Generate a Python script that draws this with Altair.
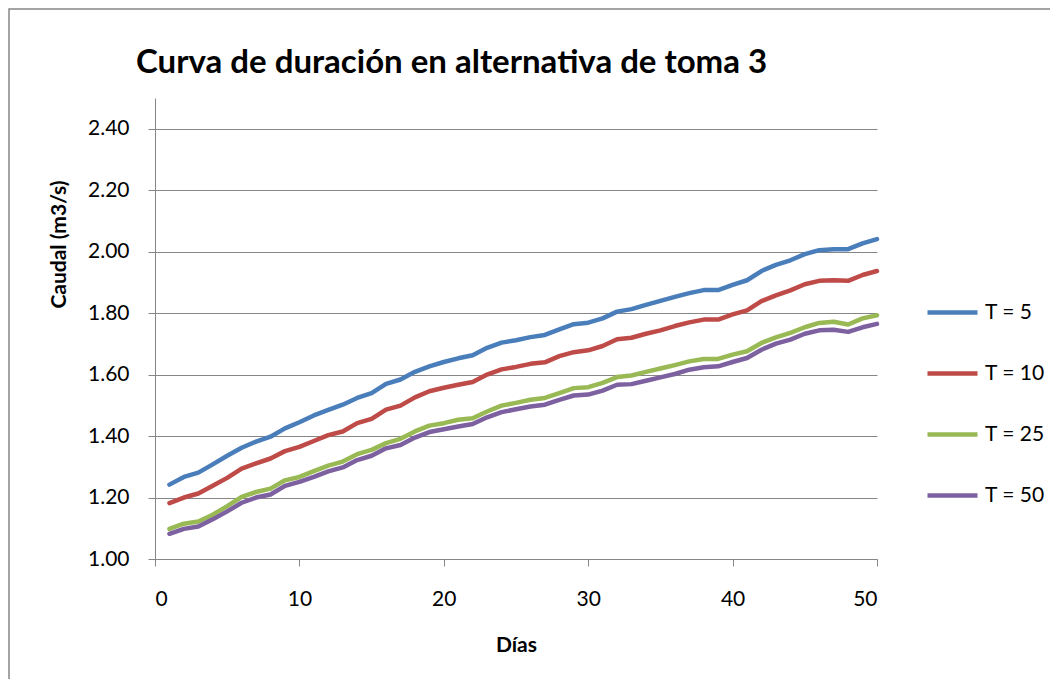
import altair as alt
import pandas as pd

dias = list(range(1, 51))
series = ["T = 5", "T = 10", "T = 25", "T = 50"]
colors = ["#4A7EBB", "#BE4B48", "#98B954", "#7D60A0"]

t5 = [1.242, 1.267, 1.281, 1.308, 1.336, 1.362, 1.382, 1.398, 1.425, 1.445,
      1.467, 1.485, 1.502, 1.524, 1.540, 1.570, 1.584, 1.609, 1.627, 1.641,
      1.653, 1.663, 1.687, 1.704, 1.712, 1.722, 1.729, 1.747, 1.764, 1.769,
      1.783, 1.805, 1.813, 1.827, 1.840, 1.853, 1.865, 1.875, 1.875, 1.892,
      1.907, 1.937, 1.957, 1.972, 1.992, 2.005, 2.008, 2.008, 2.027, 2.041]
t10 = [1.182, 1.200, 1.213, 1.238, 1.264, 1.294, 1.311, 1.327, 1.351, 1.365,
       1.384, 1.403, 1.415, 1.442, 1.456, 1.486, 1.499, 1.526, 1.546, 1.557,
       1.567, 1.576, 1.600, 1.617, 1.625, 1.635, 1.640, 1.660, 1.673, 1.679,
       1.693, 1.715, 1.720, 1.733, 1.744, 1.758, 1.770, 1.779, 1.779, 1.796,
       1.809, 1.839, 1.858, 1.874, 1.894, 1.905, 1.907, 1.905, 1.924, 1.937]
t25 = [1.098, 1.115, 1.122, 1.144, 1.172, 1.202, 1.218, 1.229, 1.256, 1.267,
       1.286, 1.304, 1.317, 1.341, 1.355, 1.377, 1.391, 1.415, 1.434, 1.442,
       1.453, 1.458, 1.480, 1.499, 1.508, 1.518, 1.524, 1.540, 1.556, 1.559,
       1.573, 1.592, 1.597, 1.609, 1.620, 1.631, 1.643, 1.651, 1.651, 1.665,
       1.676, 1.703, 1.721, 1.736, 1.754, 1.768, 1.772, 1.763, 1.783, 1.793]
t50 = [1.082, 1.098, 1.106, 1.129, 1.155, 1.183, 1.200, 1.210, 1.238, 1.251,
       1.267, 1.285, 1.298, 1.322, 1.336, 1.360, 1.371, 1.395, 1.413, 1.422,
       1.431, 1.439, 1.461, 1.478, 1.487, 1.496, 1.502, 1.518, 1.532, 1.535,
       1.548, 1.567, 1.569, 1.580, 1.591, 1.602, 1.616, 1.624, 1.627, 1.641,
       1.654, 1.681, 1.701, 1.714, 1.733, 1.744, 1.746, 1.739, 1.754, 1.765]

x_ticks = [0, 10, 20, 30, 40, 50]
y_ticks = [1.0, 1.2, 1.4, 1.6, 1.8, 2.0, 2.2, 2.4]

rows = []
for name, vals in zip(series, [t5, t10, t25, t50]):
    for d, v in zip(dias, vals):
        rows.append({"dia": d, "caudal": v, "serie": name})
df = pd.DataFrame(rows)

W, H = 722, 461
FONT = "Lato"
GRAY = "#868686"

border = alt.Chart(pd.DataFrame({"k": [0]})).mark_rect(
    fill="transparent", stroke=GRAY, strokeWidth=1.5
).encode(
    x=alt.value(-146), x2=alt.value(W + 300),
    y=alt.value(-89), y2=alt.value(H + 300),
)

lines = alt.Chart(df).mark_line(strokeWidth=4.5, strokeCap="round", strokeJoin="round").encode(
    x=alt.X("dia:Q", scale=alt.Scale(domain=[0, 50], nice=False),
            axis=alt.Axis(values=x_ticks, title="Días", grid=False, tickSize=7,
                          labelPadding=22, titlePadding=25)),
    y=alt.Y("caudal:Q", scale=alt.Scale(domain=[1.0, 2.5], nice=False, zero=False),
            axis=alt.Axis(values=y_ticks, format=".2f", title="Caudal (m3/s)",
                          tickSize=7, labelPadding=19, titlePadding=18, titleY=146)),
    color=alt.Color("serie:N", scale=alt.Scale(domain=series, range=colors),
                    legend=alt.Legend(title=None, orient="none", legendX=770, legendY=187,
                                      symbolType="stroke", symbolSize=2500,
                                      symbolStrokeWidth=4.5, labelFontSize=21,
                                      labelFont=FONT, labelColor="black",
                                      labelOffset=5, rowPadding=23, padding=0)),
    order="dia:Q",
)

chart = alt.layer(border, lines).properties(
    width=W, height=H,
    title=alt.Title("Curva de duración en alternativa de toma 3", fontSize=33, font=FONT,
                    fontWeight="bold", color="black", anchor="start", dx=-19, dy=117,
                    baseline="alphabetic", offset=19, frame="group"),
    autosize=alt.AutoSizeParams(type="none"),
    padding={"left": 147, "top": 90, "right": 173, "bottom": 120},
).configure_view(stroke=None).configure_axis(
    domainColor=GRAY, tickColor=GRAY, gridColor=GRAY, gridWidth=1,
    labelFont=FONT, labelFontSize=21, labelColor="black",
    titleFont=FONT, titleFontSize=21, titleFontWeight="bold", titleColor="black",
)

chart.save("out.html", embed_options={"renderer": "svg", "actions": False})
